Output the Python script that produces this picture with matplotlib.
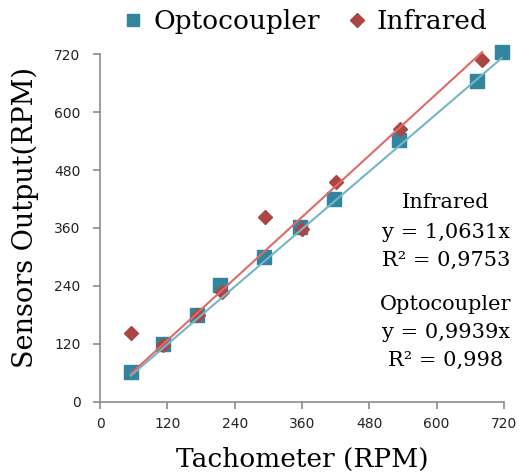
import numpy as np
import matplotlib.pyplot as plt
from matplotlib.lines import Line2D

# readings (RPM)
opto_x = [55, 112, 173, 214, 292, 356, 417, 533, 672, 716]
opto_y = [62, 120, 180, 242, 300, 362, 420, 542, 665, 725]
ir_x = [55, 112, 175, 217, 294, 360, 420, 535, 681]
ir_y = [143, 118, 180, 228, 383, 358, 455, 565, 708]

# linear trendlines through the origin
opto_slope, opto_r2 = 0.9939, "0,998"
ir_slope, ir_r2 = 1.0631, "0,9753"

ticks = [0, 120, 240, 360, 480, 600, 720]

opto_marker = "#31859c"
ir_marker = "#aa4643"
opto_line = "#74b6c6"
ir_line = "#e06a6a"
serif = "DejaVu Serif"

fig = plt.figure(figsize=(5.19, 4.75), dpi=100)
ax = fig.add_axes([0.1927, 0.1537, 0.7784, 0.7326])

ax.plot(opto_x, opto_y, ls="none", marker="s", ms=9.5, color=opto_marker, zorder=2, clip_on=False)
ax.plot(ir_x, ir_y, ls="none", marker="D", ms=7.5, color=ir_marker, zorder=2, clip_on=False)

xo = np.array([min(opto_x), max(opto_x)])
xi = np.array([min(ir_x), max(ir_x)])
ax.plot(xo, opto_slope * xo, color=opto_line, lw=1.5, zorder=3, clip_on=False)
ax.plot(xi, ir_slope * xi, color=ir_line, lw=1.5, zorder=3, clip_on=False)

ax.set_xlim(0, 720)
ax.set_ylim(0, 720)
ax.set_xticks(ticks)
ax.set_yticks(ticks)
for s in ["top", "right"]:
    ax.spines[s].set_visible(False)
for s in ["left", "bottom"]:
    ax.spines[s].set_color("#8c8c8c")
    ax.spines[s].set_linewidth(1.2)
ax.tick_params(direction="out", length=5, width=1.2, color="#8c8c8c",
               labelsize=10, labelcolor="#222222", pad=6)
ax.tick_params(axis="y", pad=9)

ax.set_xlabel("Tachometer (RPM)", family=serif, fontsize=19, labelpad=11)
ax.set_ylabel("Sensors Output(RPM)", family=serif, fontsize=19.5, va="center")
ax.yaxis.set_label_coords(-0.186, 0.53)

note = dict(family=serif, fontsize=15, ha="center", va="center",
            transform=fig.transFigure)
cx = 446 / 519
for txt, ypx in [("Infrared", 203), ("y = %.4fx" % ir_slope, 233), ("R² = " + ir_r2, 260),
                 ("Optocoupler", 305), ("y = %.4fx" % opto_slope, 333), ("R² = " + opto_r2, 360)]:
    fig.text(cx, 1 - ypx / 475, txt.replace(".", ","), **note)

handles = [Line2D([], [], ls="none", marker="s", ms=8, color=opto_marker),
           Line2D([], [], ls="none", marker="D", ms=7, color=ir_marker)]
fig.legend(handles, ["Optocoupler", "Infrared"], loc="center", bbox_to_anchor=(0.585, 0.955),
           ncol=2, frameon=False, prop={"family": serif, "size": 19},
           handletextpad=0.25, columnspacing=0.9, handlelength=1.0)

fig.savefig("out.png", dpi=100)
